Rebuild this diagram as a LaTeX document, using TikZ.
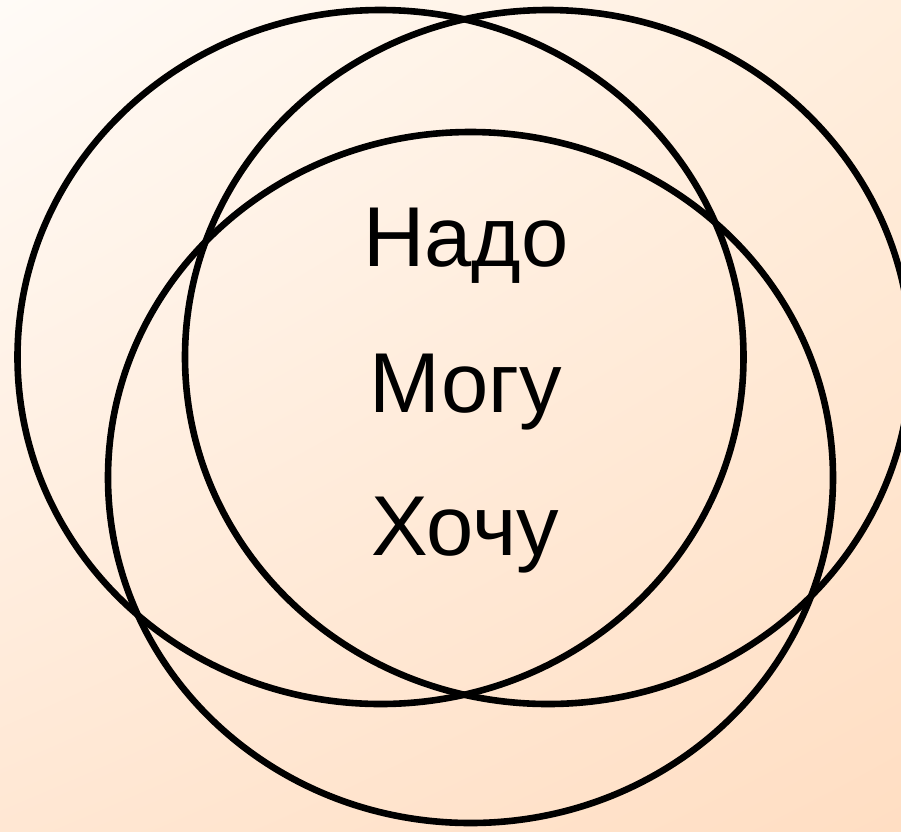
\documentclass[tikz,border=0pt]{standalone}
\usepackage{fontspec}
\setmainfont{Liberation Sans}
\usetikzlibrary{shadings}
\definecolor{bgUL}{HTML}{FFFBF7}
\definecolor{bgUR}{HTML}{FFEEDD}
\definecolor{bgLL}{HTML}{FFE7D3}
\definecolor{bgLR}{HTML}{FFDEC3}
\tikzset{
  ring/.style={draw=black, line width=6.6pt},
  word/.style={anchor=base, inner sep=0pt, font=\fontsize{85}{90}\selectfont, text=black}
}
\begin{document}
\begin{tikzpicture}[x=1pt,y=-1pt]
\useasboundingbox (0,0) rectangle (901,831);
\clip (0,0) rectangle (901,831);
\shade[upper left=bgUL, upper right=bgUR, lower left=bgLL, lower right=bgLR] (0,0) rectangle (901,831);
\draw[ring] (380.5,357) ellipse [x radius=363, y radius=347];
\draw[ring] (548,357) ellipse [x radius=363, y radius=347];
\draw[ring] (470.5,477.5) ellipse [x radius=362.5, y radius=345.5];
\node[word] (nado) at (466,266) {Надо};
\node[word] (mogu) at (466,412) {Могу};
\node[word] (hochu) at (465,555) {Хочу};
\end{tikzpicture}
\end{document}
